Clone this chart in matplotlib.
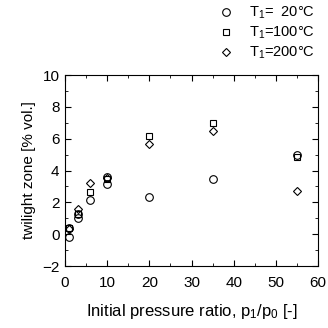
import matplotlib
matplotlib.use("Agg")
import matplotlib.pyplot as plt
from matplotlib.ticker import MultipleLocator

plt.rcParams['font.family'] = ['Liberation Sans', 'DejaVu Sans']
plt.rcParams['mathtext.fontset'] = 'custom'
plt.rcParams['mathtext.rm'] = 'Liberation Sans'
plt.rcParams['mathtext.it'] = 'Liberation Sans'

# T1 = 20 C (circles)
x_20 = [1, 1, 3, 3, 6, 10, 10, 20, 35, 55]
y_20 = [0.37, -0.16, 1.25, 1.04, 2.15, 3.15, 3.6, 2.36, 3.45, 4.95]
# T1 = 100 C (squares)
x_100 = [1, 3, 6, 10, 20, 35, 55]
y_100 = [0.4, 1.3, 2.63, 3.5, 6.15, 7.0, 4.85]
# T1 = 200 C (diamonds)
x_200 = [1, 3, 6, 10, 20, 35, 55]
y_200 = [0.3, 1.58, 3.24, 3.55, 5.7, 6.5, 2.7]

labels = ['T$_1$=  20°C', 'T$_1$=100°C', 'T$_1$=200°C']

fig = plt.figure(figsize=(3.28, 3.28), dpi=100)
ax = fig.add_axes([0.198, 0.189, 0.772, 0.582])

h1, = ax.plot(x_20, y_20, 'o', mfc='none', mec='black', ms=5.5, mew=0.8, ls='none')
h2, = ax.plot(x_100, y_100, 's', mfc='none', mec='black', ms=5, mew=0.8, ls='none')
h3, = ax.plot(x_200, y_200, 'D', mfc='none', mec='black', ms=4.5, mew=0.8, ls='none')

ax.set_xlim(0, 60)
ax.set_ylim(-2, 10)
ax.xaxis.set_major_locator(MultipleLocator(10))
ax.xaxis.set_minor_locator(MultipleLocator(5))
ax.yaxis.set_major_locator(MultipleLocator(2))
ax.yaxis.set_minor_locator(MultipleLocator(1))
ax.tick_params(which='both', direction='in', top=True, right=True, labelsize=11)
ax.tick_params(which='major', length=4)
ax.tick_params(which='minor', length=2.5)
ax.tick_params(axis='x', which='major', pad=7)
ax.tick_params(axis='y', which='major', pad=4)
ax.set_xlabel('Initial pressure ratio, p$_1$/p$_0$ [-]', fontsize=12, labelpad=9)
ax.set_ylabel('twilight zone [% vol.]', fontsize=11, labelpad=4)

fig.legend([h1, h2, h3], labels, loc='upper right', bbox_to_anchor=(1.0, 1.025),
           frameon=False, fontsize=10.5, handletextpad=1.1, labelspacing=0.25,
           handlelength=1.0)

fig.savefig('out.png', dpi=100)
